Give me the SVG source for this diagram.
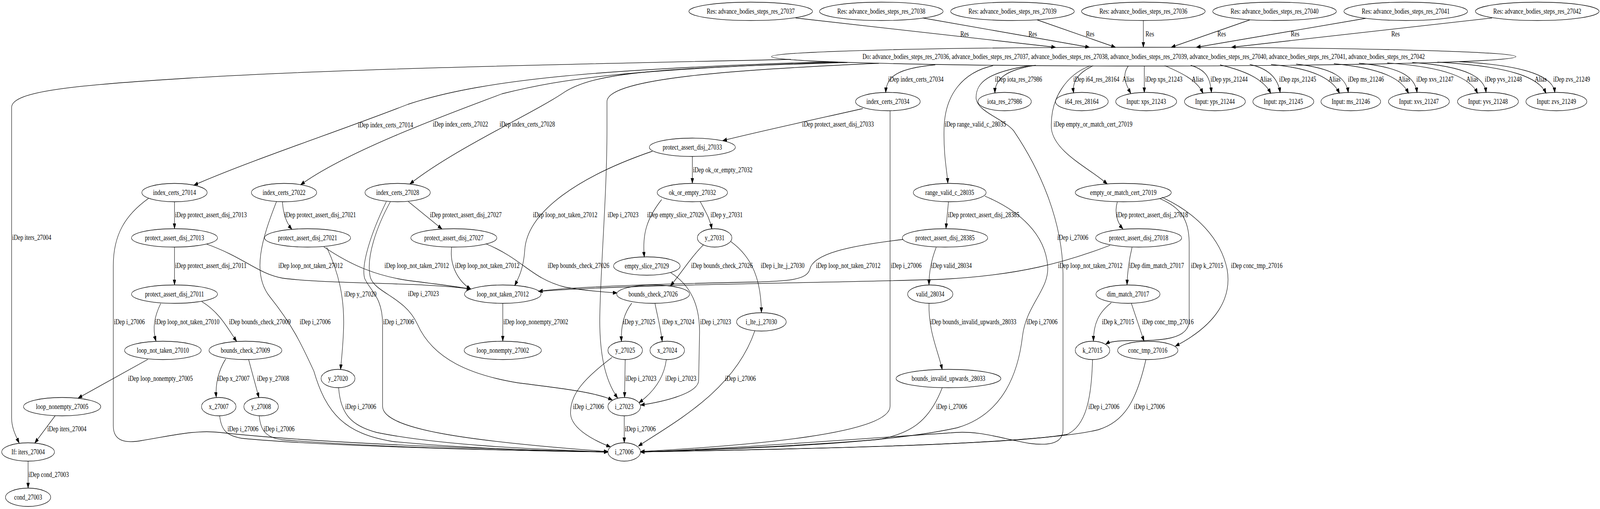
<svg xmlns="http://www.w3.org/2000/svg" width="5098" height="1303" viewBox="0 0 5098 1303" preserveAspectRatio="none">
<style>
svg{width:100vw;height:100vh}
.node ellipse{fill:none;stroke:#000;stroke-width:1.3}
.node text{font-family:"Liberation Serif","Times New Roman",serif;font-size:18px;text-anchor:middle;fill:#000}
#edges path{fill:none;stroke:#000;stroke-width:1.3;marker-end:url(#arr)}
#edges text{font-family:"Liberation Serif","Times New Roman",serif;font-size:18px;text-anchor:start;fill:#000}
</style>
<defs>
<marker id="arr" markerUnits="userSpaceOnUse" markerWidth="14" markerHeight="10" refX="13" refY="4.7" orient="auto"><path d="M0,0 L13,4.7 L0,9.4 z" fill="#000" stroke="#000" stroke-width="1"/></marker>
</defs>
<rect width="5098" height="1303" fill="#fff"/>
<g id="nodes">
<g id="res27037" class="node"><ellipse cx="2392" cy="29" rx="197" ry="23.5"/><text x="2392" y="35">Res: advance_bodies_steps_res_27037</text></g>
<g id="res27038" class="node"><ellipse cx="2808" cy="29" rx="197" ry="23.5"/><text x="2808" y="35">Res: advance_bodies_steps_res_27038</text></g>
<g id="res27039" class="node"><ellipse cx="3226" cy="29" rx="197" ry="23.5"/><text x="3226" y="35">Res: advance_bodies_steps_res_27039</text></g>
<g id="res27036" class="node"><ellipse cx="3643" cy="29" rx="197" ry="23.5"/><text x="3643" y="35">Res: advance_bodies_steps_res_27036</text></g>
<g id="res27040" class="node"><ellipse cx="4061" cy="29" rx="197" ry="23.5"/><text x="4061" y="35">Res: advance_bodies_steps_res_27040</text></g>
<g id="res27041" class="node"><ellipse cx="4479" cy="29" rx="197" ry="23.5"/><text x="4479" y="35">Res: advance_bodies_steps_res_27041</text></g>
<g id="res27042" class="node"><ellipse cx="4898" cy="29" rx="197" ry="23.5"/><text x="4898" y="35">Res: advance_bodies_steps_res_27042</text></g>
<g id="do" class="node"><ellipse cx="3644" cy="145" rx="1186" ry="24"/><text x="3644" y="151">Do: advance_bodies_steps_res_27036, advance_bodies_steps_res_27037, advance_bodies_steps_res_27038, advance_bodies_steps_res_27039, advance_bodies_steps_res_27040, advance_bodies_steps_res_27041, advance_bodies_steps_res_27042</text></g>
<g id="index_certs_27034" class="node"><ellipse cx="2829" cy="260" rx="103" ry="23.5"/><text x="2829" y="266">index_certs_27034</text></g>
<g id="iota_res_27986" class="node"><ellipse cx="3201" cy="260" rx="85" ry="23.5"/><text x="3201" y="266">iota_res_27986</text></g>
<g id="i64_res_28164" class="node"><ellipse cx="3447" cy="260" rx="84" ry="23.5"/><text x="3447" y="266">i64_res_28164</text></g>
<g id="xps_21243" class="node"><ellipse cx="3652" cy="260" rx="97" ry="23.5"/><text x="3652" y="266">Input: xps_21243</text></g>
<g id="yps_21244" class="node"><ellipse cx="3871" cy="260" rx="97" ry="23.5"/><text x="3871" y="266">Input: yps_21244</text></g>
<g id="zps_21245" class="node"><ellipse cx="4089" cy="260" rx="97" ry="23.5"/><text x="4089" y="266">Input: zps_21245</text></g>
<g id="ms_21246" class="node"><ellipse cx="4304" cy="260" rx="95" ry="23.5"/><text x="4304" y="266">Input: ms_21246</text></g>
<g id="xvs_21247" class="node"><ellipse cx="4521" cy="260" rx="97" ry="23.5"/><text x="4521" y="266">Input: xvs_21247</text></g>
<g id="yvs_21248" class="node"><ellipse cx="4741" cy="260" rx="97" ry="23.5"/><text x="4741" y="266">Input: yvs_21248</text></g>
<g id="zvs_21249" class="node"><ellipse cx="4959" cy="260" rx="97" ry="23.5"/><text x="4959" y="266">Input: zvs_21249</text></g>
<g id="protect_assert_disj_27033" class="node"><ellipse cx="2206" cy="377" rx="137" ry="23.5"/><text x="2206" y="383">protect_assert_disj_27033</text></g>
<g id="index_certs_27014" class="node"><ellipse cx="556" cy="493" rx="104" ry="23.5"/><text x="556" y="499">index_certs_27014</text></g>
<g id="index_certs_27022" class="node"><ellipse cx="905" cy="493" rx="104" ry="23.5"/><text x="905" y="499">index_certs_27022</text></g>
<g id="index_certs_27028" class="node"><ellipse cx="1267" cy="493" rx="104" ry="23.5"/><text x="1267" y="499">index_certs_27028</text></g>
<g id="ok_or_empty_27032" class="node"><ellipse cx="2206" cy="493" rx="112" ry="23.5"/><text x="2206" y="499">ok_or_empty_27032</text></g>
<g id="range_valid_c_28035" class="node"><ellipse cx="3026" cy="493" rx="116" ry="23.5"/><text x="3026" y="499">range_valid_c_28035</text></g>
<g id="empty_or_match_cert_27019" class="node"><ellipse cx="3579" cy="493" rx="153" ry="23.5"/><text x="3579" y="499">empty_or_match_cert_27019</text></g>
<g id="protect_assert_disj_27013" class="node"><ellipse cx="556" cy="609" rx="137" ry="23.5"/><text x="556" y="615">protect_assert_disj_27013</text></g>
<g id="protect_assert_disj_27021" class="node"><ellipse cx="980" cy="609" rx="137" ry="23.5"/><text x="980" y="615">protect_assert_disj_27021</text></g>
<g id="protect_assert_disj_27027" class="node"><ellipse cx="1446" cy="609" rx="137" ry="23.5"/><text x="1446" y="615">protect_assert_disj_27027</text></g>
<g id="y_27031" class="node"><ellipse cx="2277" cy="609" rx="55" ry="23.5"/><text x="2277" y="615">y_27031</text></g>
<g id="protect_assert_disj_28385" class="node"><ellipse cx="3011" cy="609" rx="136" ry="23.5"/><text x="3011" y="615">protect_assert_disj_28385</text></g>
<g id="protect_assert_disj_27018" class="node"><ellipse cx="3628" cy="609" rx="137" ry="23.5"/><text x="3628" y="615">protect_assert_disj_27018</text></g>
<g id="empty_slice_27029" class="node"><ellipse cx="2061" cy="681" rx="106" ry="23.5"/><text x="2061" y="687">empty_slice_27029</text></g>
<g id="protect_assert_disj_27011" class="node"><ellipse cx="556" cy="753" rx="137" ry="23.5"/><text x="556" y="759">protect_assert_disj_27011</text></g>
<g id="loop_not_taken_27012" class="node"><ellipse cx="1602" cy="753" rx="122" ry="23.5"/><text x="1602" y="759">loop_not_taken_27012</text></g>
<g id="bounds_check_27026" class="node"><ellipse cx="2081" cy="753" rx="116" ry="23.5"/><text x="2081" y="759">bounds_check_27026</text></g>
<g id="valid_28034" class="node"><ellipse cx="2964" cy="753" rx="72" ry="23.5"/><text x="2964" y="759">valid_28034</text></g>
<g id="dim_match_27017" class="node"><ellipse cx="3594" cy="753" rx="102" ry="23.5"/><text x="3594" y="759">dim_match_27017</text></g>
<g id="i_lte_j_27030" class="node"><ellipse cx="2426" cy="824" rx="79" ry="23.5"/><text x="2426" y="830">i_lte_j_27030</text></g>
<g id="loop_not_taken_27010" class="node"><ellipse cx="519" cy="897" rx="122" ry="23.5"/><text x="519" y="903">loop_not_taken_27010</text></g>
<g id="bounds_check_27009" class="node"><ellipse cx="782" cy="897" rx="116" ry="23.5"/><text x="782" y="903">bounds_check_27009</text></g>
<g id="loop_nonempty_27002" class="node"><ellipse cx="1602" cy="897" rx="123" ry="23.5"/><text x="1602" y="903">loop_nonempty_27002</text></g>
<g id="y_27025" class="node"><ellipse cx="1992" cy="897" rx="55" ry="23.5"/><text x="1992" y="903">y_27025</text></g>
<g id="x_27024" class="node"><ellipse cx="2126" cy="897" rx="55" ry="23.5"/><text x="2126" y="903">x_27024</text></g>
<g id="k_27015" class="node"><ellipse cx="3481" cy="897" rx="55" ry="23.5"/><text x="3481" y="903">k_27015</text></g>
<g id="conc_tmp_27016" class="node"><ellipse cx="3657" cy="897" rx="96" ry="23.5"/><text x="3657" y="903">conc_tmp_27016</text></g>
<g id="y_27020" class="node"><ellipse cx="1077" cy="969" rx="54" ry="23.5"/><text x="1077" y="975">y_27020</text></g>
<g id="bounds_invalid_upwards_28033" class="node"><ellipse cx="3022" cy="969" rx="167" ry="23.5"/><text x="3022" y="975">bounds_invalid_upwards_28033</text></g>
<g id="loop_nonempty_27005" class="node"><ellipse cx="198" cy="1041" rx="123" ry="23.5"/><text x="198" y="1047">loop_nonempty_27005</text></g>
<g id="x_27007" class="node"><ellipse cx="697" cy="1041" rx="55" ry="23.5"/><text x="697" y="1047">x_27007</text></g>
<g id="y_27008" class="node"><ellipse cx="832" cy="1041" rx="55" ry="23.5"/><text x="832" y="1047">y_27008</text></g>
<g id="i_27023" class="node"><ellipse cx="1989" cy="1041" rx="52" ry="23.5"/><text x="1989" y="1047">i_27023</text></g>
<g id="if_iters_27004" class="node"><ellipse cx="89.5" cy="1157" rx="84" ry="23.5"/><text x="89.5" y="1163">If: iters_27004</text></g>
<g id="i_27006" class="node"><ellipse cx="1989" cy="1157" rx="52" ry="23.5"/><text x="1989" y="1163">i_27006</text></g>
<g id="cond_27003" class="node"><ellipse cx="89.5" cy="1273" rx="72" ry="23.5"/><text x="89.5" y="1279">cond_27003</text></g>
</g>
<g id="edges">
<path d="M2535,46 L3363,121"/><text x="3060" y="93">Res</text>
<path d="M2940,46 L3471,121"/><text x="3277" y="93">Res</text>
<path d="M3305,51 L3554,121"/><text x="3460" y="93">Res</text>
<path d="M3643,53 L3643,121"/><text x="3650" y="93">Res</text>
<path d="M3982,51 L3732,121"/><text x="3879" y="93">Res</text>
<path d="M4351,47 L3812,121"/><text x="4113" y="93">Res</text>
<path d="M4754,46 L3924,121"/><text x="4433" y="93">Res</text>
<path d="M2520,152 C1900,163 1100,175 600,200 C250,218 37,232 37,275 L37,1070 C37,1095 50,1115 61,1134"/><text x="39" y="614">iDep iters_27004</text>
<path d="M2640,158 C1950,176 1550,200 1300,267 C1100,330 800,410 618,474"/><text x="1140" y="326">iDep index_certs_27014</text>
<path d="M2670,159 C2000,178 1800,200 1600,240 C1400,300 1100,390 958,473"/><text x="1379" y="324">iDep index_certs_27022</text>
<path d="M2700,160 C2100,174 1900,185 1800,235 C1700,290 1450,380 1306,471"/><text x="1592" y="324">iDep index_certs_27028</text>
<path d="M2980,166 C2860,175 2825,195 2822,237"/><text x="2830" y="209">iDep index_certs_27034</text>
<path d="M3300,167 C3210,178 3170,200 3170,238"/><text x="3170" y="209">iDep iota_res_27986</text>
<path d="M3483,168 C3440,185 3415,205 3421,238"/><text x="3420" y="209">iDep i64_res_28164</text>
<path d="M3595,169 C3572,195 3590,220 3603,239"/><text x="3576" y="209">Alias</text>
<path d="M3646,169 L3646,237"/><text x="3649" y="209">iDep xps_21243</text>
<path d="M3711,168 C3760,185 3815,205 3833,239"/><text x="3797" y="209">Alias</text>
<path d="M3794,167 C3845,180 3856,200 3860,237"/><text x="3857" y="209">iDep yps_21244</text>
<path d="M3887,166 C3960,180 4025,200 4049,239"/><text x="4014" y="209">Alias</text>
<path d="M3982,165 C4040,175 4072,200 4079,237"/><text x="4076" y="209">iDep zps_21245</text>
<path d="M4050,165 C4180,175 4245,200 4268,239"/><text x="4233" y="209">Alias</text>
<path d="M4130,164 C4250,175 4290,200 4296,237"/><text x="4295" y="209">iDep ms_21246</text>
<path d="M4250,163 C4400,175 4465,200 4488,239"/><text x="4455" y="209">Alias</text>
<path d="M4330,162 C4470,172 4510,200 4515,237"/><text x="4513" y="209">iDep xvs_21247</text>
<path d="M4420,161 C4610,172 4685,200 4708,239"/><text x="4672" y="209">Alias</text>
<path d="M4500,160 C4680,170 4730,200 4735,237"/><text x="4731" y="209">iDep yvs_21248</text>
<path d="M4580,159 C4820,170 4905,200 4926,239"/><text x="4890" y="209">Alias</text>
<path d="M4650,158 C4880,168 4950,200 4954,237"/><text x="4949" y="209">iDep zvs_21249</text>
<path d="M3164,168 C3070,185 3010,240 3008,330 C3006,400 3018,440 3020,469"/><text x="3010" y="324">iDep range_valid_c_28035</text>
<path d="M3475,168 C3400,190 3345,250 3350,330 C3360,390 3470,430 3528,471"/><text x="3357" y="324">iDep empty_or_match_cert_27019</text>
<path d="M2800,162 C2350,178 1934,200 1934,260 L1934,330 C1934,500 1912,700 1911,820 C1911,900 1925,970 1968,1019"/><text x="1936" y="556">iDep i_27023</text>
<path d="M3280,168 C3150,185 3110,210 3110,250 C3110,285 3200,305 3230,335 C3310,430 3385,560 3387,700 L3387,1100 C3387,1140 3330,1140 3280,1135 C3200,1125 3120,1100 3030,1108 C2800,1120 2300,1150 2041,1157"/><text x="3369" y="614">iDep i_27006</text>
<path d="M2749,278 C2600,305 2400,340 2303,360"/><text x="2556" y="324">iDep protect_assert_disj_27033</text>
<path d="M2836,284 L2836,1040 C2836,1110 2400,1140 2041,1156"/><text x="2838" y="686">iDep i_27006</text>
<path d="M2206,401 L2206,469"/><text x="2208" y="441">iDep ok_or_empty_27032</text>
<path d="M2079,387 C1850,450 1680,540 1672,640 C1668,690 1650,715 1640,731"/><text x="1698" y="556">iDep loop_not_taken_27012</text>
<path d="M2108,511 C2060,560 2046,600 2053,658"/><text x="2062" y="556">iDep empty_slice_27029</text>
<path d="M2231,516 C2250,545 2262,560 2268,586"/><text x="2264" y="556">iDep y_27031</text>
<path d="M2241,627 C2200,660 2170,700 2136,732"/><text x="2202" y="686">iDep bounds_check_27026</text>
<path d="M2328,618 C2400,660 2425,720 2426,800"/><text x="2424" y="686">iDep i_lte_j_27030</text>
<path d="M2137,698 C2200,730 2229,780 2229,850 L2226,975 C2222,1010 2100,1030 2041,1037"/><text x="2231" y="830">iDep i_27023</text>
<path d="M2405,847 C2340,1000 2150,1080 2034,1142"/><text x="2310" y="975">iDep i_27006</text>
<path d="M2013,776 C1990,800 1978,830 1980,874"/><text x="1985" y="830">iDep y_27025</text>
<path d="M2087,777 C2095,810 2105,840 2110,874"/><text x="2110" y="830">iDep x_27024</text>
<path d="M1992,921 L1990,1017"/><text x="1993" y="975">iDep i_27023</text>
<path d="M1950,915 C1860,970 1815,1010 1818,1060 C1822,1100 1900,1130 1945,1144"/><text x="1826" y="1047">iDep i_27006</text>
<path d="M2123,921 C2115,970 2080,1005 2036,1031"/><text x="2120" y="975">iDep i_27023</text>
<path d="M1989,1065 L1989,1133"/><text x="1991" y="1104">iDep i_27006</text>
<path d="M1602,777 L1602,873"/><text x="1604" y="830">iDep loop_nonempty_27002</text>
<path d="M1439,633 C1432,680 1460,720 1500,740"/><text x="1450" y="686">iDep loop_not_taken_27012</text>
<path d="M1548,624 C1670,665 1690,712 1800,735 C1870,745 1930,748 1966,750"/><text x="1745" y="686">iDep bounds_check_27026</text>
<path d="M1301,516 L1408,586"/><text x="1370" y="556">iDep protect_assert_disj_27027</text>
<path d="M1244,516 C1200,580 1165,660 1180,710 C1195,750 1290,760 1330,830 C1380,920 1500,960 1650,980 C1800,995 1900,1005 1951,1024"/><text x="1300" y="758">iDep i_27023</text>
<path d="M1231,516 C1180,600 1150,680 1162,713 C1180,745 1219,760 1219,830 L1219,1040 C1219,1100 1500,1130 1937,1156"/><text x="1221" y="830">iDep i_27006</text>
<path d="M659,625 C780,660 820,700 900,712 C1050,728 1350,722 1500,740"/><text x="887" y="686">iDep loop_not_taken_27012</text>
<path d="M1032,632 C1120,680 1200,706 1300,718 C1400,728 1460,734 1500,740"/><text x="1225" y="686">iDep loop_not_taken_27012</text>
<path d="M1041,633 C1080,700 1096,760 1095,830 C1094,880 1088,920 1085,946"/><text x="1097" y="759">iDep y_27020</text>
<path d="M1079,993 C1085,1060 1120,1090 1200,1107 C1400,1140 1700,1150 1937,1157"/><text x="1100" y="1047">iDep i_27006</text>
<path d="M900,517 C902,545 912,570 930,587"/><text x="906" y="556">iDep protect_assert_disj_27021</text>
<path d="M881,516 C835,610 800,700 860,760 C930,830 960,880 1000,950 C1040,1060 1100,1110 1250,1130 C1500,1150 1800,1155 1937,1157"/><text x="955" y="830">iDep i_27006</text>
<path d="M556,517 L556,585"/><text x="558" y="556">iDep protect_assert_disj_27013</text>
<path d="M473,508 C400,550 361,600 361,680 L361,1090 C361,1130 400,1135 450,1128 C550,1115 620,1100 700,1107 C900,1125 1300,1145 1937,1157"/><text x="363" y="830">iDep i_27006</text>
<path d="M556,633 L556,729"/><text x="558" y="686">iDep protect_assert_disj_27011</text>
<path d="M512,777 C492,810 485,840 497,873"/><text x="494" y="830">iDep loop_not_taken_27010</text>
<path d="M643,772 C700,800 725,840 754,874"/><text x="730" y="830">iDep bounds_check_27009</text>
<path d="M471,920 L249,1019"/><text x="408" y="975">iDep loop_nonempty_27005</text>
<path d="M719,919 C695,950 686,985 689,1017"/><text x="693" y="975">iDep x_27007</text>
<path d="M792,920 L825,1018"/><text x="819" y="975">iDep y_27008</text>
<path d="M700,1065 C705,1100 720,1115 770,1122 C1000,1140 1500,1152 1937,1157"/><text x="725" y="1104">iDep i_27006</text>
<path d="M826,1065 C830,1100 845,1120 900,1126 C1200,1145 1600,1153 1937,1157"/><text x="840" y="1104">iDep i_27006</text>
<path d="M176,1064 L111,1134"/><text x="151" y="1104">iDep iters_27004</text>
<path d="M89.5,1181 L89.5,1249"/><text x="91" y="1221">iDep cond_27003</text>
<path d="M3022,517 L3014,585"/><text x="3020" y="556">iDep protect_assert_disj_28385</text>
<path d="M3138,502 C3250,540 3330,600 3338,680 C3345,740 3270,780 3258,860 C3245,950 3200,1060 3050,1095 C2800,1140 2300,1150 2041,1157"/><text x="3271" y="830">iDep i_27006</text>
<path d="M2877,613 C2700,630 2590,650 2580,690 C2570,715 2520,720 2400,722 C2100,727 1800,735 1716,746"/><text x="2600" y="686">iDep loop_not_taken_27012</text>
<path d="M3537,628 C3400,670 3250,705 3000,715 C2600,725 2000,728 1716,746"/><text x="3371" y="686">iDep loop_not_taken_27012</text>
<path d="M2983,633 C2965,670 2960,700 2960,729"/><text x="2967" y="686">iDep valid_28034</text>
<path d="M2960,777 C2958,850 2990,900 3002,946"/><text x="2964" y="830">iDep bounds_invalid_upwards_28033</text>
<path d="M3002,993 C2960,1080 2900,1110 2800,1125 C2500,1145 2200,1152 2041,1157"/><text x="2983" y="1047">iDep i_27006</text>
<path d="M3560,517 C3550,545 3560,570 3578,586"/><text x="3557" y="556">iDep protect_assert_disj_27018</text>
<path d="M3694,508 C3760,530 3788,560 3789,620 L3789,820 C3789,870 3700,872 3600,872 C3560,872 3535,875 3523,881"/><text x="3795" y="686">iDep k_27015</text>
<path d="M3702,505 C3810,545 3890,610 3910,690 C3925,760 3880,830 3745,886"/><text x="3922" y="686">iDep conc_tmp_27016</text>
<path d="M3607,633 C3596,670 3592,700 3591,729"/><text x="3598" y="686">iDep dim_match_27017</text>
<path d="M3541,775 C3500,800 3484,830 3484,873"/><text x="3511" y="830">iDep k_27015</text>
<path d="M3605,777 L3645,873"/><text x="3639" y="830">iDep conc_tmp_27016</text>
<path d="M3481,921 C3478,1020 3460,1090 3400,1112 C3200,1140 2500,1150 2041,1157"/><text x="3468" y="1047">iDep i_27006</text>
<path d="M3651,921 C3620,1030 3580,1080 3500,1100 C3300,1140 2500,1150 2041,1157"/><text x="3613" y="1047">iDep i_27006</text>
</g>
</svg>
